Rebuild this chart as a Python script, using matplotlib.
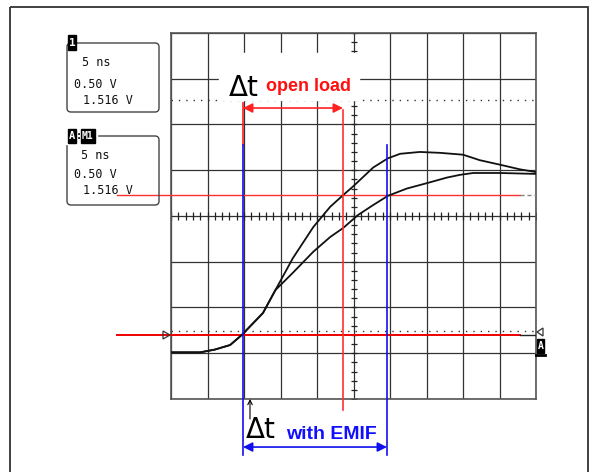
import numpy as np
import matplotlib
matplotlib.use('Agg')
import matplotlib.pyplot as plt
from matplotlib.patches import Rectangle, FancyBboxPatch, Polygon

# scope settings: 5 ns/div, 0.5 V/div, 10 x 8 divisions
T_DIV = 5.0
V_DIV = 0.5

# traces (time in ns, voltage in V relative to centre line)
t_open = [0.0, 4.0, 6.0, 8.1, 9.7, 12.6, 14.3, 16.7, 19.5, 21.8, 23.6, 24.9,
          27.7, 29.7, 31.4, 34.1, 36.9, 40.0, 42.3, 45.1, 47.8, 50.0]
v_open = [-1.49, -1.49, -1.46, -1.41, -1.30, -1.06, -0.81, -0.46, -0.12, 0.10,
          0.23, 0.32, 0.53, 0.63, 0.68, 0.70, 0.69, 0.67, 0.61, 0.56, 0.51, 0.48]

t_emif = [0.0, 4.0, 6.0, 8.1, 9.7, 12.6, 14.3, 16.7, 19.5, 21.8, 23.6, 25.6,
          27.7, 29.7, 32.3, 35.1, 37.8, 39.6, 41.4, 45.1, 50.0]
v_emif = [-1.49, -1.49, -1.46, -1.41, -1.30, -1.06, -0.81, -0.62, -0.39, -0.23,
          -0.13, 0.01, 0.12, 0.22, 0.30, 0.36, 0.42, 0.45, 0.47, 0.47, 0.46]

# cursors
t_start = 9.86
t_end_open = 23.56
t_end_emif = 29.59
v_level = 0.23
v_ref = -1.30
v_dotted = [1.27, -1.26]

box_lines = ["5 ns", "0.50 V", "1.516 V"]

W, H = 595, 472
fig = plt.figure(figsize=(W / 100, H / 100), dpi=100)
fig.patch.set_facecolor('white')

gx0, gx1, gy0, gy1 = 171, 536, 33, 399
ax = fig.add_axes([gx0 / W, 1 - gy1 / H, (gx1 - gx0) / W, (gy1 - gy0) / H], zorder=1)
ax.set_xlim(0, 10 * T_DIV)
ax.set_ylim(-4 * V_DIV, 4 * V_DIV)
ax.set_xticks(np.arange(0, 10 * T_DIV + 0.1, T_DIV))
ax.set_yticks(np.arange(-4 * V_DIV, 4 * V_DIV + 0.01, V_DIV))
ax.grid(True, color='#333333', lw=0.9)
ax.tick_params(length=0, labelbottom=False, labelleft=False)
for s in ax.spines.values():
    s.set_color('#555555')
    s.set_linewidth(1.2)

# minor ticks on the centre lines
ax.plot(np.arange(0, 50.1, 1.0), np.zeros(51), ls='', marker='|', ms=5.5,
        mew=0.9, color='#222222', zorder=2)
ax.plot(np.full(41, 25.0), np.arange(-2, 2.01, 0.1), ls='', marker='_', ms=5,
        mew=0.9, color='#222222', zorder=2)

for v in v_dotted:
    ax.axhline(v, color='#333333', lw=1, ls=(0, (1, 4.3)), zorder=2)

# horizontal cursors
ax.plot([-7.4, 47.8], [v_level, v_level], color='#ff3030', lw=1, clip_on=False, zorder=3)
ax.plot([47.8, 50], [v_level, v_level], color='#888888', lw=1, ls=(0, (3, 2)), zorder=3)
ax.plot([-7.4, 47.8], [v_ref, v_ref], color='#ee0000', lw=1.4, clip_on=False, zorder=3)
ax.plot([47.8, 50], [v_ref, v_ref], color='#222222', lw=1, zorder=3)

# traces
ax.plot(t_open, v_open, color='#111111', lw=1.3, zorder=4)
ax.plot(t_emif, v_emif, color='#111111', lw=1.3, zorder=4)

# vertical cursors
ax.plot([t_start, t_start], [0.776, 1.235], color='#ff2020', lw=1.2, clip_on=False, zorder=5)
ax.plot([t_start, t_start], [-2.61, 0.776], color='#1010ee', lw=1.2, clip_on=False, zorder=5)
ax.plot([t_end_open, t_end_open], [-2.12, 1.16], color='#ff3030', lw=1.2, clip_on=False, zorder=5)
ax.plot([t_end_emif, t_end_emif], [-2.61, 0.776], color='#1010ee', lw=1.2, clip_on=False, zorder=5)

# delta-t arrows
ax.annotate('', xy=(t_start, 1.18), xytext=(t_end_open, 1.18), annotation_clip=False,
            arrowprops=dict(arrowstyle='<|-|>', color='#ff2020', lw=1.2,
                            mutation_scale=14, shrinkA=0, shrinkB=0), zorder=6)
ax.annotate('', xy=(t_start, -2.525), xytext=(t_end_emif, -2.525), annotation_clip=False,
            arrowprops=dict(arrowstyle='<|-|>', color='#1010ee', lw=1.2,
                            mutation_scale=14, shrinkA=0, shrinkB=0), zorder=6)

# overlay in pixel coordinates for frame, readout boxes and labels
ov = fig.add_axes([0, 0, 1, 1], zorder=3)
ov.set_xlim(0, W)
ov.set_ylim(H, 0)
ov.axis('off')
ov.patch.set_alpha(0)

ov.add_patch(Rectangle((10, 7), 578, 470, fill=False, ec='#333333', lw=1.3))

mono = 'DejaVu Sans Mono'
# readout box 1
ov.add_patch(FancyBboxPatch((67, 43), 92, 69, boxstyle='round,pad=0,rounding_size=4',
                            fill=False, ec='#444444', lw=1))
ov.add_patch(Rectangle((68, 35), 8, 15, color='black'))
ov.text(72, 43, '1', color='white', fontsize=8, fontweight='bold', family=mono,
        ha='center', va='center')
for txt, x, y in zip(box_lines, [82, 74, 83], [66, 88, 104]):
    ov.text(x, y, txt, fontsize=8.5, family=mono, va='baseline', color='#111111')

# readout box 2
ov.add_patch(FancyBboxPatch((67, 136), 92, 69, boxstyle='round,pad=0,rounding_size=4',
                            fill=False, ec='#444444', lw=1))
ov.add_patch(Rectangle((66, 128), 31, 16, color='white'))
ov.add_patch(Rectangle((68, 129), 8, 14, color='black'))
ov.add_patch(Rectangle((81, 129), 14, 14, color='black'))
ov.text(72, 136, 'A', color='white', fontsize=7.5, fontweight='bold', family=mono,
        ha='center', va='center')
ov.text(78.5, 136, ':', color='black', fontsize=7.5, fontweight='bold', family=mono,
        ha='center', va='center')
ov.text(88, 136, 'M1', color='white', fontsize=7, fontweight='bold', family=mono,
        ha='center', va='center')
for txt, x, y in zip(box_lines, [81, 74, 83], [159, 178, 194]):
    ov.text(x, y, txt, fontsize=8.5, family=mono, va='baseline', color='#111111')

# trace markers
ov.add_patch(Polygon([[163, 331], [170, 335], [163, 339]], fill=False, ec='#333333', lw=0.9))
ov.add_patch(Polygon([[543, 328], [537, 332], [543, 336]], fill=False, ec='#333333', lw=0.9))
ov.add_patch(Rectangle((537, 339), 7, 14, color='black'))
ov.text(540.5, 346, 'A', color='white', fontsize=7, fontweight='bold', family=mono,
        ha='center', va='center')
ov.plot([536, 545], [355, 355], color='black', lw=2)

# label "open load" with its white backing
ov.add_patch(Rectangle((219, 53), 140, 47, color='white', zorder=1))
ov.text(229, 96, '\u0394t', fontsize=20, color='black', va='baseline', zorder=2)
ov.text(266, 91, 'open load', fontsize=13, fontweight='bold', color='#ff1010',
        family='Liberation Sans', va='baseline', zorder=2)

# label "with EMIF"
ov.text(246, 438, '\u0394t', fontsize=20, color='black', va='baseline')
ov.text(286, 439, 'with EMIF', fontsize=14, fontweight='bold', color='#1010ff',
        family='Liberation Sans', va='baseline')
ov.annotate('', xy=(250, 399), xytext=(250, 419),
            arrowprops=dict(arrowstyle='->', color='black', lw=0.8,
                            mutation_scale=8, shrinkA=0, shrinkB=0))

fig.savefig('out.png', dpi=100)
